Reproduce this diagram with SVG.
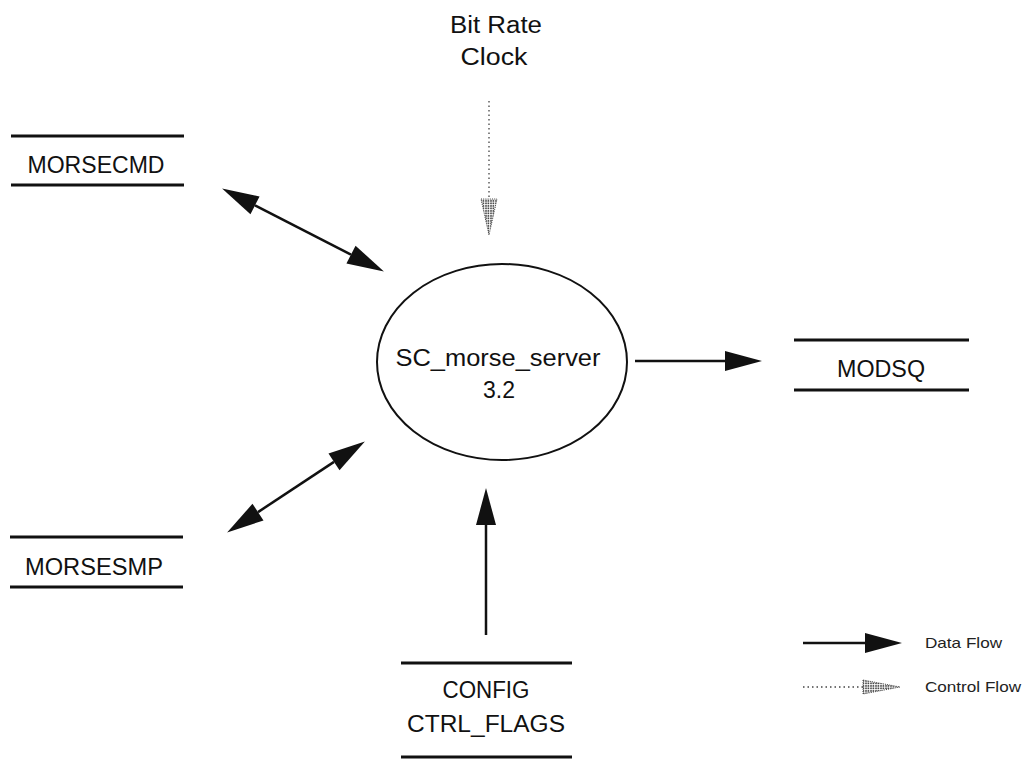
<svg xmlns="http://www.w3.org/2000/svg" width="1026" height="760" viewBox="0 0 1026 760">
  <style>
    .store { stroke: #111; stroke-width: 3; fill: none; }
    .lbl { font-family: "Liberation Sans", Arial, Helvetica, sans-serif; font-size: 23px; fill: #111; text-anchor: middle; }
    .small { font-family: "Liberation Sans", Arial, Helvetica, sans-serif; font-size: 15px; fill: #222; }
    .flow { stroke: #111; stroke-width: 2.5; fill: none; }
    .ctrl { stroke: #444; stroke-width: 1.3; stroke-dasharray: 1.5 3; fill: none; }
    .ctrlhead { fill: url(#stipple); stroke: #444; stroke-width: 1; stroke-dasharray: 1 1.2; }
  </style>
  <defs>
    <!-- solid data-flow arrowhead; base sits on the line end -->
    <marker id="head" markerUnits="userSpaceOnUse" markerWidth="40" markerHeight="22" refX="0" refY="10" orient="auto-start-reverse" overflow="visible">
      <path d="M0,0 L37,10 L0,20 z" fill="#111"/>
    </marker>
    <!-- stippled fill for control-flow arrowheads -->
    <pattern id="stipple" width="2.5" height="2.5" patternUnits="userSpaceOnUse">
      <rect width="2.5" height="2.5" fill="#fff"/>
      <circle cx="1" cy="1" r="0.9" fill="#333"/>
    </pattern>
  </defs>

  <!-- process bubble -->
  <g id="node-server">
    <ellipse cx="502" cy="362" rx="125" ry="98" fill="none" stroke="#111" stroke-width="2"/>
    <text class="lbl" x="498" y="366" textLength="205" lengthAdjust="spacingAndGlyphs">SC_morse_server</text>
    <text class="lbl" x="499" y="398">3.2</text>
  </g>

  <!-- data stores -->
  <g id="node-morsecmd">
    <line class="store" x1="11" y1="136" x2="184" y2="136"/>
    <line class="store" x1="11" y1="185" x2="184" y2="185"/>
    <text class="lbl" x="96" y="173" textLength="137" lengthAdjust="spacingAndGlyphs">MORSECMD</text>
  </g>

  <g id="node-morsesmp">
    <line class="store" x1="10" y1="537" x2="183" y2="537"/>
    <line class="store" x1="10" y1="587" x2="183" y2="587"/>
    <text class="lbl" x="94" y="575" textLength="138" lengthAdjust="spacingAndGlyphs">MORSESMP</text>
  </g>

  <g id="node-modsq">
    <line class="store" x1="794" y1="340" x2="969" y2="340"/>
    <line class="store" x1="794" y1="390" x2="969" y2="390"/>
    <text class="lbl" x="881" y="377" textLength="88" lengthAdjust="spacingAndGlyphs">MODSQ</text>
  </g>

  <g id="node-config">
    <line class="store" x1="401" y1="663" x2="572" y2="663"/>
    <line class="store" x1="401" y1="757" x2="572" y2="757"/>
    <text class="lbl" x="486" y="698" textLength="87" lengthAdjust="spacingAndGlyphs">CONFIG</text>
    <text class="lbl" x="486" y="732" textLength="158" lengthAdjust="spacingAndGlyphs">CTRL_FLAGS</text>
  </g>

  <!-- external control source -->
  <g id="node-clock">
    <text class="lbl" x="496" y="33" textLength="92" lengthAdjust="spacingAndGlyphs">Bit Rate</text>
    <text class="lbl" x="494" y="65" textLength="67" lengthAdjust="spacingAndGlyphs">Clock</text>
  </g>

  <!-- flows -->
  <g id="connectors">
    <line class="flow" x1="255" y1="205.4" x2="351" y2="254.6" marker-start="url(#head)" marker-end="url(#head)"/>
    <line class="flow" x1="258" y1="512.1" x2="334" y2="461.9" marker-start="url(#head)" marker-end="url(#head)"/>
    <line class="flow" x1="635" y1="361" x2="725" y2="361" marker-end="url(#head)"/>
    <line class="flow" x1="486" y1="635" x2="486" y2="525" marker-end="url(#head)"/>
    <line class="ctrl" x1="489" y1="101" x2="489" y2="199"/>
    <polygon class="ctrlhead" points="481,199 497,199 489,235"/>
  </g>

  <!-- key -->
  <g id="legend">
    <line class="flow" x1="803" y1="643" x2="865" y2="643" marker-end="url(#head)"/>
    <text class="small" x="925" y="648" textLength="77" lengthAdjust="spacingAndGlyphs">Data Flow</text>
    <line class="ctrl" x1="803" y1="687" x2="863" y2="687"/>
    <polygon class="ctrlhead" points="863,680 863,694 900,687"/>
    <text class="small" x="925" y="692" textLength="96" lengthAdjust="spacingAndGlyphs">Control Flow</text>
  </g>
</svg>
